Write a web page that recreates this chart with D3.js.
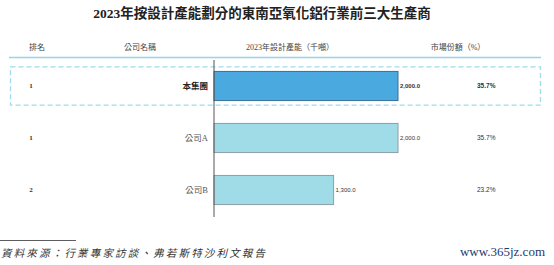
<!DOCTYPE html>
<html>
<head>
<meta charset="utf-8">
<script src="https://cdn.jsdelivr.net/npm/d3@7"></script>
<style>
  body { margin: 0; background: #fff; }
  svg text { font-family: "Liberation Serif", "DejaVu Serif", "Noto Sans CJK TC", serif; }
</style>
</head>
<body>
<figure id="chart" style="margin:0"></figure>
<script>
const title = "2023年按設計產能劃分的東南亞氧化鋁行業前三大生產商";
const headers = ["排名", "公司名稱", "2023年設計產能（千噸）", "市場份額（%）"];
const ranks = ["1", "1", "2"];
const companies = ["本集團", "公司A", "公司B"];
const capacity = [2000, 2000, 1300];
const shares = [35.7, 35.7, 23.2];
const source = "資料來源：行業專家訪談、弗若斯特沙利文報告";

const rows = companies.map((c, i) => ({ rank: ranks[i], name: c, value: capacity[i], share: shares[i], own: i === 0 }));

const width = 554, height = 265;
const svg = d3.select("figure#chart").append("svg")
  .attr("width", width).attr("height", height);

// title
svg.append("text")
  .attr("x", 262).attr("y", 18)
  .attr("text-anchor", "middle")
  .style("font-size", "13.5px").style("font-weight", "bold").attr("fill", "#222")
  .text(title);

// header row
const headX = [37, 140, 290, 458];
svg.selectAll(".head").data(headers).enter().append("text")
  .attr("x", (d, i) => headX[i]).attr("y", 50)
  .attr("text-anchor", "middle")
  .style("font-size", "8px").attr("fill", "#444")
  .text(d => d);

svg.append("line")
  .attr("x1", 9).attr("x2", 541).attr("y1", 57.5).attr("y2", 57.5)
  .attr("stroke", "#8fd6ee").attr("stroke-width", 1.6);

// scales
const x = d3.scaleLinear().domain([0, 2000]).range([214, 398]);
const y = d3.scaleBand().domain(companies).range([60, 216]).paddingInner(0.44).paddingOuter(0.22);

// highlight box for the group
svg.append("rect")
  .attr("x", 10.5).attr("y", y(companies[0]) - 4.5)
  .attr("width", 530).attr("height", y.bandwidth() + 9)
  .attr("fill", "none").attr("stroke", "#9fdcf0").attr("stroke-width", 1.3)
  .attr("stroke-dasharray", "5,3");

// bars
svg.selectAll(".bar").data(rows).enter().append("rect")
  .attr("x", x(0)).attr("y", d => y(d.name))
  .attr("width", d => x(d.value) - x(0)).attr("height", y.bandwidth())
  .attr("fill", d => d.own ? "#4aaae0" : "#a0dbe8")
  .attr("stroke", d => d.own ? "#3c6f92" : "#8e9ea6").attr("stroke-width", 1);

// axis line
svg.append("g")
  .attr("transform", `translate(${x(0)},0)`)
  .call(d3.axisLeft(y).tickSize(0).tickFormat(""))
  .call(g => g.select(".domain").attr("d", "M0,60V217").attr("stroke", "#555"));

const midY = d => y(d.name) + y.bandwidth() / 2;

// rank
svg.selectAll(".rank").data(rows).enter().append("text")
  .attr("x", 31).attr("y", midY).attr("dy", "0.35em")
  .attr("text-anchor", "middle")
  .style("font-size", "7px").style("font-weight", "bold").attr("fill", "#333")
  .text(d => d.rank);

// company names
svg.selectAll(".name").data(rows).enter().append("text")
  .attr("x", 208).attr("y", midY).attr("dy", "0.35em")
  .attr("text-anchor", "end")
  .style("font-size", "8.5px").style("font-weight", d => d.own ? "bold" : "normal")
  .attr("fill", d => d.own ? "#222" : "#555")
  .text(d => d.name);

// values
svg.selectAll(".val").data(rows).enter().append("text")
  .attr("x", d => x(d.value) + 2).attr("y", midY).attr("dy", "0.35em")
  .style("font-family", "'Liberation Sans', Arial, sans-serif")
  .style("font-size", "6px").style("font-weight", d => d.own ? "bold" : "normal")
  .attr("fill", "#333")
  .text(d => d3.format(",.1f")(d.value));

// shares
svg.selectAll(".share").data(rows).enter().append("text")
  .attr("x", 477).attr("y", midY).attr("dy", "0.35em")
  .style("font-family", "'Liberation Sans', Arial, sans-serif")
  .style("font-size", "6.5px").style("font-weight", d => d.own ? "bold" : "normal")
  .attr("fill", "#333")
  .text(d => d.share.toFixed(1) + "%");

// source
svg.append("line")
  .attr("x1", 0).attr("x2", 76).attr("y1", 240.5).attr("y2", 240.5)
  .attr("stroke", "#333").attr("stroke-width", 0.8);
svg.append("text")
  .attr("x", 1).attr("y", 257)
  .style("font-size", "10.5px").style("font-style", "italic").attr("fill", "#333")
  .attr("textLength", 264)
  .text(source);

// watermark
svg.append("text")
  .attr("x", 545).attr("y", 256).attr("text-anchor", "end")
  .style("font-size", "13px").attr("fill", "#1d3a6e")
  .text("www.365jz.com");
</script>
</body>
</html>
